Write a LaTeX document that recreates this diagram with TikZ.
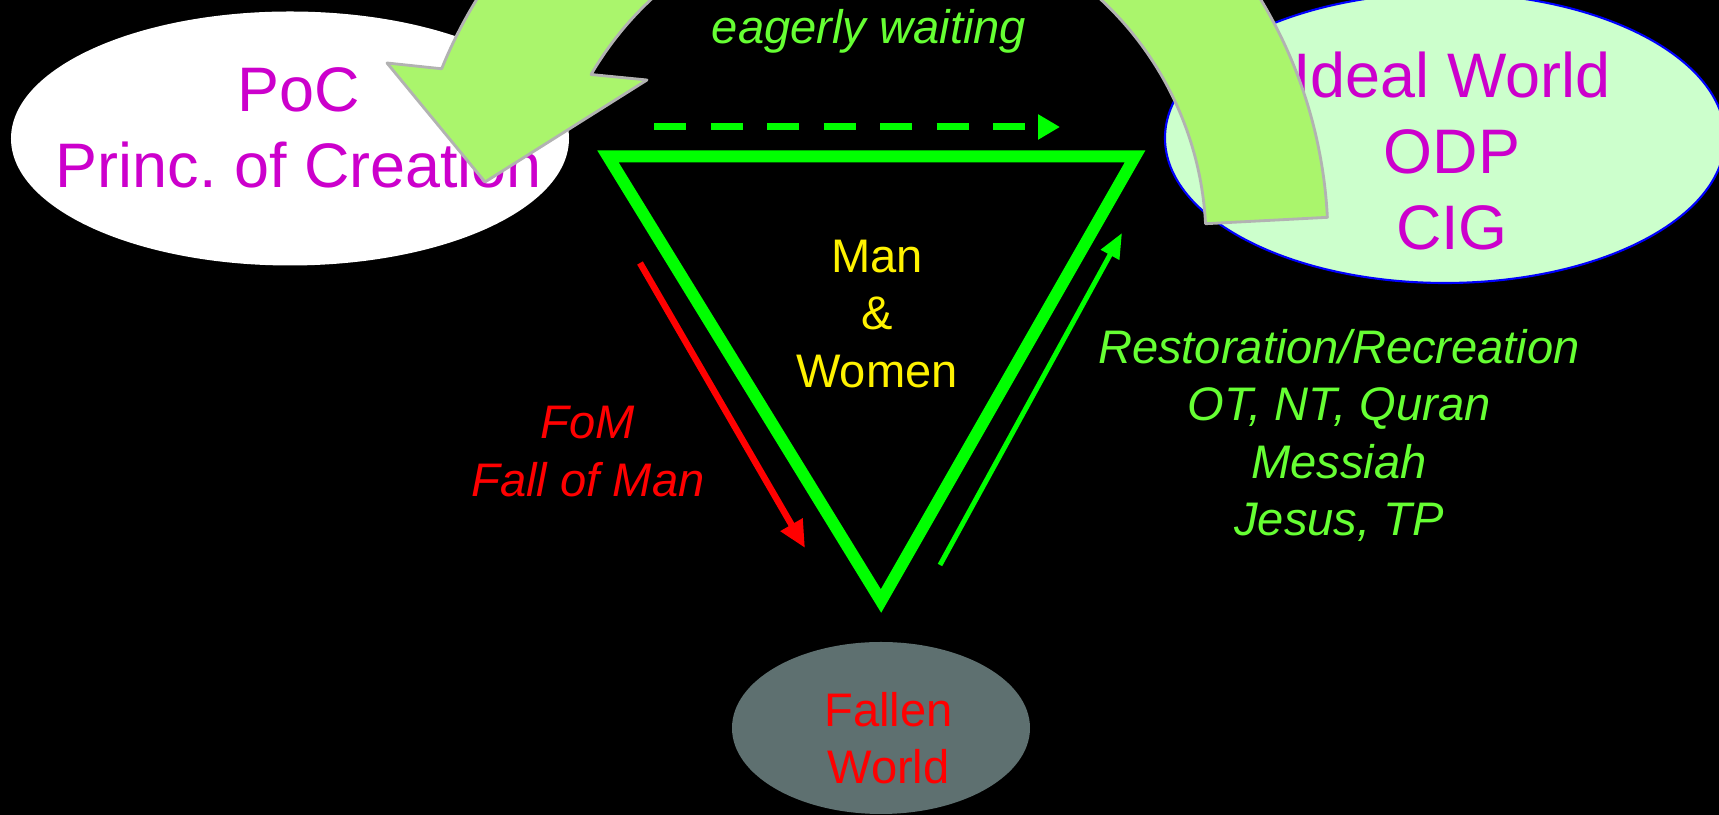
\documentclass[tikz,border=0pt]{standalone}
\usepackage{fontspec}
\setmainfont{Liberation Sans}
\usetikzlibrary{arrows.meta}
\usetikzlibrary{positioning}
\usetikzlibrary{shapes.geometric}
\definecolor{limeline}{HTML}{00FF00}
\definecolor{softlime}{HTML}{66FF33}
\definecolor{orchid}{HTML}{CC00CC}
\definecolor{mint}{HTML}{CCFFCC}
\definecolor{slate}{HTML}{5E7070}
\definecolor{bandgreen}{HTML}{AAF56C}

\begin{document}
\begin{tikzpicture}[
        world/.style={ellipse, inner sep=0pt},
        bigtxt/.style={font=\fontsize{17.9}{21.7}\selectfont, text=orchid,
          align=center, inner sep=0pt},
        smalltxt/.style={font=\fontsize{13.4}{16.3}\selectfont,
          align=center, inner sep=0pt},
        slanttxt/.style={smalltxt, font=\fontsize{13.4}{16.3}\selectfont\itshape},
        frame/.style={limeline, line width=0.12cm, line join=miter},
        fallarrow/.style={-{Triangle[length=0.27cm, width=0.24cm]},
          line width=0.065cm, red},
        risearrow/.style={-{Triangle[length=0.25cm, width=0.2cm]},
          line width=0.05cm, limeline},
        waitarrow/.style={-{Triangle[length=0.22cm, width=0.24cm]},
          line width=0.07cm, limeline, dash pattern=on 0.32cm off 0.245cm},
        band/.style={fill=bandgreen, draw=gray!60, line width=0.8pt,
          line join=round},
      ]

      \useasboundingbox (0,0) rectangle (17.19,-8.15);
      \fill[black] (0,0) rectangle (17.19,-8.15);

      % === worlds ===
      \node[world, fill=white, minimum width=5.58cm, minimum height=2.54cm]
        (poc) at (2.90,-1.385) {};
      \node[world, fill=mint, draw=blue, line width=0.6pt,
        minimum width=5.60cm, minimum height=2.90cm] (ideal) at (14.45,-1.38) {};
      \node[world, fill=slate, minimum width=2.98cm, minimum height=1.72cm]
        (fallen) at (8.81,-7.28) {};

      \node[bigtxt] (poctxt) at (2.99,-1.275) {PoC\\Princ.\ of Creation};
      \node[bigtxt] (idealtxt) at (14.52,-1.51) {Ideal World\\ODP\\CIG};
      \node[smalltxt, text=red] (fallentxt) at (8.885,-7.38) {Fallen\\World};

      % === triangle ===
      \coordinate (tl) at (6.08,-1.565);
      \coordinate (tr) at (11.35,-1.565);
      \coordinate (tb) at (8.81,-6.01);
      \draw[frame] (tl) -- (tr) -- (tb) -- cycle;

      \node[smalltxt, text=yellow] (mantxt) at (8.77,-3.14) {Man\\\&\\Women};

      % === arrows along the sides ===
      \coordinate (fomA) at (6.40,-2.63);
      \coordinate (fomB) at (8.05,-5.48);
      \draw[fallarrow] (fomA) -- (fomB);
      \node[slanttxt, text=red] (fomtxt) at (5.88,-4.515) {FoM\\Fall of Man};

      \coordinate (resA) at (9.40,-5.65);
      \coordinate (resB) at (11.22,-2.33);
      \draw[risearrow] (resA) -- (resB);
      \node[slanttxt, text=softlime] (restxt) at (13.39,-4.355)
        {Restoration/Recreation\\OT, NT, Quran\\Messiah\\Jesus, TP};

      \coordinate (waitA) at (6.54,-1.27);
      \coordinate (waitB) at (10.60,-1.27);
      \draw[waitarrow] (waitA) -- (waitB);
      \node[slanttxt, text=softlime] (waittxt) at (8.69,-0.31) {eagerly waiting};

      % === big curved arrow back to PoC ===
      \coordinate (bandc) at (8.76,-2.41);
      \filldraw[band] ([shift={(3:3.32)}]bandc) -- ([shift={(3:4.52)}]bandc)
        arc[start angle=3, end angle=40, x radius=4.52, y radius=4.61]
        arc[start angle=40, end angle=158, radius=4.61]
        -- (3.87,-0.63) -- (4.85,-1.82) -- (6.47,-0.80)
        -- ([shift={(149.7:3.30)}]bandc)
        arc[start angle=149.7, end angle=3, radius=3.30] -- cycle;

      \end{tikzpicture}
\end{document}
